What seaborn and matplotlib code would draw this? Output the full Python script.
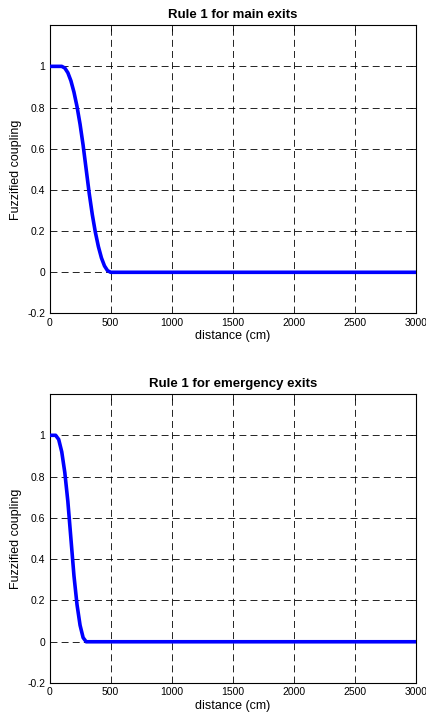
import matplotlib
matplotlib.use("Agg")
import matplotlib.pyplot as plt
import seaborn as sns
import pandas as pd

# distance (cm) and fuzzified coupling values
main_x = [0, 100, 125, 150, 175, 200, 225, 250, 275, 300, 325, 350, 375, 400, 425, 450, 475, 500, 3000]
main_y = [1, 1, 0.992, 0.969, 0.930, 0.875, 0.805, 0.719, 0.617, 0.5, 0.383, 0.281, 0.195, 0.125, 0.070, 0.031, 0.008, 0, 0]

emerg_x = [0, 50, 75, 100, 125, 150, 175, 200, 225, 250, 275, 300, 3000]
emerg_y = [1, 1, 0.98, 0.92, 0.82, 0.68, 0.5, 0.32, 0.18, 0.08, 0.02, 0, 0]

titles = ["Rule 1 for main exits", "Rule 1 for emergency exits"]
x_ticks = [0, 500, 1000, 1500, 2000, 2500, 3000]
y_ticks = [-0.2, 0, 0.2, 0.4, 0.6, 0.8, 1]
y_tick_labels = ["-0.2", "0", "0.2", "0.4", "0.6", "0.8", "1"]

sns.set_style("white")
plt.rcParams["font.family"] = ["Liberation Sans", "DejaVu Sans"]
plt.rcParams["lines.scale_dashes"] = False
plt.rcParams["text.color"] = "black"
plt.rcParams["axes.labelcolor"] = "black"

fig = plt.figure(figsize=(4.27, 7.19), dpi=100)
ax1 = fig.add_axes([0.116, 0.564, 0.858, 0.401])
ax2 = fig.add_axes([0.116, 0.050, 0.858, 0.402])

datasets = [(main_x, main_y), (emerg_x, emerg_y)]
for ax, (xs, ys), title in zip([ax1, ax2], datasets, titles):
    df = pd.DataFrame({"distance": xs, "coupling": ys})
    sns.lineplot(data=df, x="distance", y="coupling", ax=ax, color=(0, 0, 1),
                 linewidth=2.6, zorder=3)
    ax.set_xlim(0, 3000)
    ax.set_ylim(-0.2, 1.2)
    ax.set_xticks(x_ticks)
    ax.set_xticklabels([str(t) for t in x_ticks])
    ax.set_yticks(y_ticks)
    ax.set_yticklabels(y_tick_labels)
    ax.grid(True, color="black", linestyle=(0, (5, 3)), linewidth=0.6)
    ax.tick_params(direction="in", length=4, width=0.6, labelsize=7.5,
                   top=True, right=True, pad=3, colors="black")
    for s in ax.spines.values():
        s.set_color("black")
        s.set_linewidth(0.8)
        s.set_visible(True)
    ax.set_xlabel("distance (cm)", fontsize=9, labelpad=2)
    ax.set_ylabel("Fuzzified coupling", fontsize=9, labelpad=4)
    ax.set_title(title, fontsize=9.5, fontweight="bold", pad=5, color="black")

fig.savefig("out.png", dpi=100)
